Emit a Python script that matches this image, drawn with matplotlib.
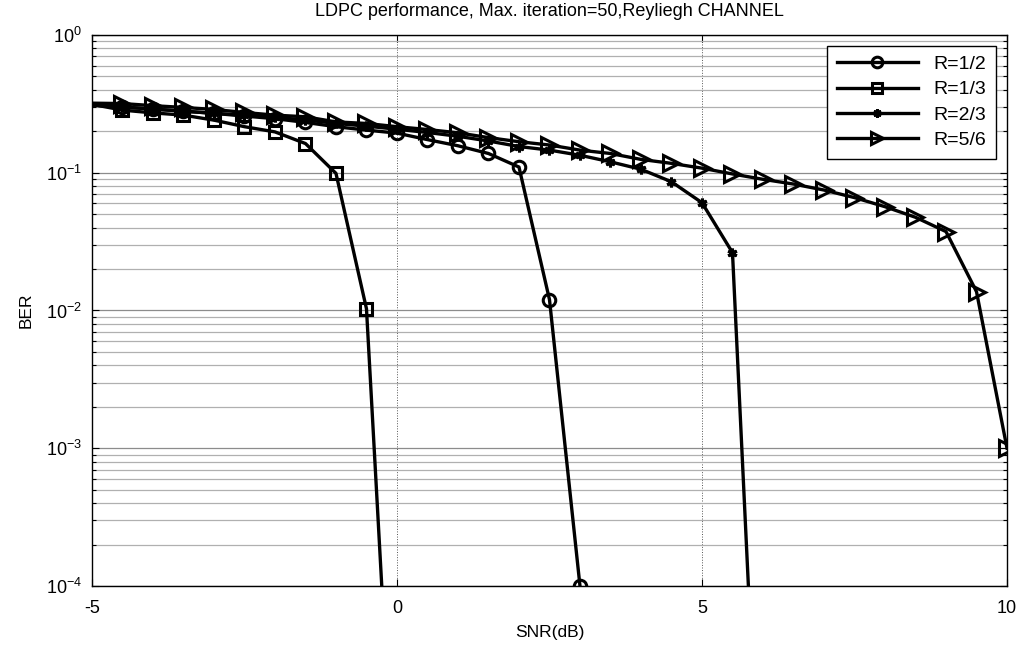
import matplotlib.pyplot as plt
import numpy as np
from matplotlib.ticker import LogLocator, NullFormatter

plt.rcParams["font.family"] = ["Liberation Sans", "DejaVu Sans"]
plt.rcParams["axes.unicode_minus"] = False

snr = np.arange(-5, 10.01, 0.5)

# BER; points below the axis floor keep the steep drop
ber_r12 = [0.31, 0.30, 0.29, 0.28, 0.27, 0.258, 0.247, 0.232, 0.216, 0.204, 0.194,
           0.174, 0.157, 0.138, 0.110, 0.012, 1e-4]
ber_r13 = [0.314, 0.285, 0.272, 0.262, 0.241, 0.216, 0.198, 0.163, 0.099, 0.0103, 1e-6]
ber_r23 = [0.31, 0.30, 0.29, 0.28, 0.27, 0.262, 0.252, 0.242, 0.228, 0.218, 0.207,
           0.196, 0.184, 0.17, 0.155, 0.146, 0.134, 0.12, 0.106, 0.086, 0.0606,
           0.0263, 6e-7]
ber_r56 = [0.32, 0.318, 0.307, 0.298, 0.288, 0.274, 0.262, 0.255, 0.234, 0.228, 0.216,
           0.206, 0.195, 0.180, 0.168, 0.159, 0.146, 0.138, 0.125, 0.117, 0.108,
           0.098, 0.0896, 0.0828, 0.0749, 0.066, 0.0567, 0.0475, 0.0374, 0.0137, 0.001]

series = [
    ("R=1/2", ber_r12, "o", 9),
    ("R=1/3", ber_r13, "s", 9),
    ("R=2/3", ber_r23, (6, 2, 0), 7),
    ("R=5/6", ber_r56, ">", 11),
]

fig = plt.figure(figsize=(10.24, 6.46), dpi=100)
ax = fig.add_axes([0.0898, 0.0929, 0.8936, 0.8529])

for label, ber, marker, ms in series:
    x = snr[:len(ber)]
    ax.semilogy(x, ber, color="black", linewidth=2.4, marker=marker, markersize=ms,
                markerfacecolor="none", markeredgecolor="black", markeredgewidth=2.2,
                markevery=slice(1, None), label=label)

ax.set_xlim(-5, 10)
ax.set_ylim(1e-4, 1)
ax.set_xticks([-5, 0, 5, 10])
ax.yaxis.set_major_locator(LogLocator(base=10, numticks=10))
ax.yaxis.set_minor_locator(LogLocator(base=10, subs=np.arange(2, 10), numticks=20))
ax.yaxis.set_minor_formatter(NullFormatter())

ax.grid(True, which="major", axis="y", color="#8c8c8c", linewidth=0.9, linestyle="-")
ax.grid(True, which="minor", axis="y", color="#b0b0b0", linewidth=0.9, linestyle="-")
ax.grid(True, which="major", axis="x", color="#555555", linewidth=0.7, linestyle=":")
ax.set_axisbelow(True)

ax.tick_params(which="both", direction="in", top=True, right=True, labelsize=13)
ax.tick_params(axis="x", pad=10)
ax.tick_params(axis="y", pad=7)
ax.tick_params(which="major", length=5, width=0.8)
ax.tick_params(which="minor", length=3, width=0.8)
for s in ax.spines.values():
    s.set_linewidth(1.0)

ax.set_xlabel("SNR(dB)", fontsize=12.5, labelpad=6)
ax.set_ylabel("BER", fontsize=12.5, labelpad=9)
ax.set_title("LDPC performance, Max. iteration=50,Reyliegh CHANNEL", fontsize=13, pad=14)

leg = ax.legend(loc="upper right", fontsize=14, handlelength=4.2, borderaxespad=0.55,
                fancybox=False, framealpha=1, edgecolor="black", labelspacing=0.4,
                handletextpad=0.8, borderpad=0.5, markerscale=0.85)
leg.get_frame().set_linewidth(1.0)

fig.savefig("out.png", dpi=100)
